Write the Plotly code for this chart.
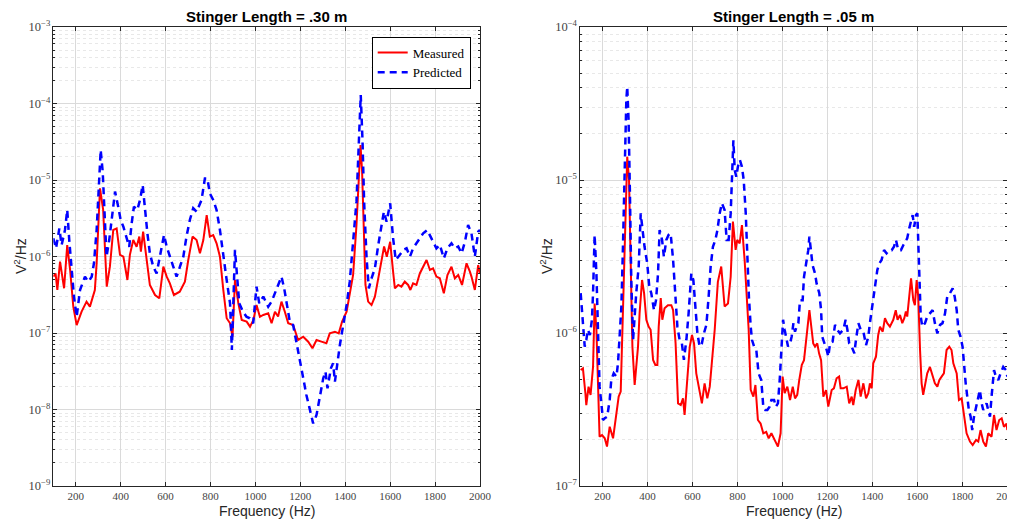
import plotly.graph_objects as go

# ---------------- data ----------------
left_freq_meas = [
    100, 110, 118, 130, 148, 162, 175, 189, 204, 226,
    248, 263, 285, 293, 308, 322, 338, 352, 367, 382,
    397, 412, 430, 441, 456, 471, 483, 490, 500, 515,
    530, 553, 572, 590, 605, 619, 637, 663, 686, 701,
    720, 738, 753, 768, 783, 797, 812, 827, 842, 857,
    872, 887, 898, 909, 924, 939, 961, 976, 991, 1005,
    1020, 1035, 1057, 1072, 1087, 1101, 1116, 1131, 1146, 1168,
    1190, 1213, 1235, 1254, 1272, 1294, 1316, 1331, 1354, 1371,
    1386, 1406, 1420, 1435, 1450, 1460, 1468, 1475, 1483, 1490,
    1502, 1517, 1532, 1547, 1561, 1573, 1585, 1600, 1613, 1621,
    1636, 1650, 1665, 1680, 1690, 1702, 1717, 1732, 1762, 1777,
    1791, 1806, 1821, 1839, 1855, 1873, 1888, 1903, 1920, 1940,
    1955, 1962, 1977, 1992, 2000]
left_meas = [
    5.45e-7, 6.0e-7, 3.65e-7, 8.55e-7, 3.84e-7, 1.41e-6, 6.65e-7, 2.21e-7, 1.27e-7, 1.90e-7,
    2.57e-7, 2.21e-7, 3.65e-7, 8.15e-7, 7.78e-6, 4.06e-6, 4.04e-7, 7.36e-7, 2.22e-6, 2.33e-6,
    1.05e-6, 9.95e-7, 4.93e-7, 1.05e-6, 1.64e-6, 1.34e-6, 1.82e-6, 1.16e-6, 2.11e-6, 9.0e-7,
    4.24e-7, 3.14e-7, 2.84e-7, 7.36e-7, 5.45e-7, 4.46e-7, 3.14e-7, 3.47e-7, 4.69e-7, 9.0e-7,
    1.82e-6, 1.64e-6, 1.10e-6, 1.64e-6, 3.48e-6, 1.82e-6, 1.91e-6, 1.49e-6, 9.95e-7, 3.65e-7,
    1.56e-7, 1.34e-7, 8.95e-8, 4.93e-7, 2.44e-7, 1.48e-7, 1.41e-7, 1.21e-7, 1.48e-7, 2.32e-7,
    1.63e-7, 1.72e-7, 1.81e-7, 1.34e-7, 1.90e-7, 1.64e-7, 2.57e-7, 1.90e-7, 1.34e-7, 1.27e-7,
    8.11e-8, 8.95e-8, 7.7e-8, 6.31e-8, 8.11e-8, 7.7e-8, 7.33e-8, 9.9e-8, 1.04e-7, 9.9e-8,
    1.41e-7, 1.90e-7, 3.14e-7, 5.73e-7, 2.58e-6, 1.29e-5, 2.87e-5, 1.29e-5, 2.58e-6, 4.25e-7,
    2.57e-7, 2.32e-7, 2.99e-7, 5.19e-7, 9.46e-7, 1.35e-6, 9.95e-7, 1.56e-6, 6.34e-7, 3.84e-7,
    4.25e-7, 4.04e-7, 4.69e-7, 4.25e-7, 3.65e-7, 4.46e-7, 4.25e-7, 6.0e-7, 9.0e-7, 6.67e-7,
    7.0e-7, 5.46e-7, 5.19e-7, 3.3e-7, 5.73e-7, 7.36e-7, 5.19e-7, 5.73e-7, 4.25e-7, 8.15e-7,
    6.34e-7, 5.46e-7, 3.65e-7, 7.74e-7, 6.0e-7]

left_freq_pred = [
    100, 112, 127, 137, 152, 162, 171, 182, 192, 204,
    219, 241, 256, 271, 281, 293, 305, 311, 320, 330,
    337, 349, 360, 375, 389, 400, 412, 424, 438, 449,
    459, 474, 486, 498, 508, 519, 530, 545, 560, 575,
    593, 605, 619, 634, 649, 664, 679, 693, 708, 723,
    738, 760, 775, 786, 797, 812, 827, 842, 857, 872,
    887, 895, 909, 916, 928, 945, 960, 975, 990, 1005,
    1017, 1035, 1057, 1072, 1087, 1101, 1116, 1128, 1138, 1153,
    1168, 1183, 1198, 1213, 1227, 1242, 1257, 1272, 1287, 1302,
    1312, 1321, 1336, 1346, 1354, 1366, 1376, 1391, 1406, 1420,
    1435, 1450, 1460, 1469, 1477, 1484, 1495, 1505, 1517, 1532,
    1547, 1561, 1572, 1584, 1600, 1613, 1625, 1643, 1658, 1673,
    1688, 1702, 1725, 1747, 1765, 1780, 1791, 1806, 1821, 1839,
    1855, 1873, 1888, 1903, 1918, 1933, 1947, 1962, 1977, 1992,
    2000]
left_pred = [
    1.73e-6, 1.28e-6, 2.33e-6, 1.41e-6, 2.22e-6, 4.06e-6, 1.64e-6, 6.65e-7, 2.99e-7, 1.63e-7,
    3.65e-7, 5.45e-7, 4.69e-7, 5.45e-7, 8.15e-7, 2.22e-6, 1.05e-5, 2.47e-5, 1.28e-5, 3.66e-6,
    9.95e-7, 1.64e-6, 3.32e-6, 7.05e-6, 4.48e-6, 3.0e-6, 2.45e-6, 1.82e-6, 1.34e-6, 2.72e-6,
    4.48e-6, 4.06e-6, 5.48e-6, 8.61e-6, 4.06e-6, 2.01e-6, 1.10e-6, 7.36e-7, 6.0e-7, 9.95e-7,
    1.91e-6, 1.34e-6, 9.95e-7, 7.36e-7, 5.45e-7, 7.36e-7, 9.95e-7, 1.82e-6, 3.0e-6, 4.27e-6,
    3.85e-6, 5.48e-6, 1.05e-5, 1.05e-5, 6.7e-6, 5.48e-6, 4.06e-6, 2.22e-6, 9.95e-7, 4.93e-7,
    2.44e-7, 6.0e-8, 1.22e-6, 6.65e-7, 2.44e-7, 1.90e-7, 1.63e-7, 1.56e-7, 1.34e-7, 4.04e-7,
    2.44e-7, 2.99e-7, 2.21e-7, 2.57e-7, 3.3e-7, 4.25e-7, 5.46e-7, 3.84e-7, 2.57e-7, 1.41e-7,
    1.27e-7, 7.7e-8, 4.22e-8, 2.56e-8, 1.55e-8, 1.04e-8, 6.59e-9, 8.47e-9, 1.55e-8, 2.56e-8,
    3.13e-8, 1.89e-8, 3.45e-8, 4.02e-8, 2.31e-8, 4.67e-8, 6.97e-8, 1.27e-7, 2.32e-7, 4.69e-7,
    1.42e-6, 5.21e-6, 2.87e-5, 1.29e-4, 3.17e-5, 5.21e-6, 9.46e-7, 3.84e-7, 5.19e-7, 7.0e-7,
    1.42e-6, 2.58e-6, 3.85e-6, 2.85e-6, 4.95e-6, 1.73e-6, 9.0e-7, 1.05e-6, 1.22e-6, 1.28e-6,
    9.95e-7, 1.28e-6, 1.64e-6, 2.01e-6, 2.22e-6, 1.82e-6, 1.56e-6, 1.28e-6, 1.42e-6, 9.46e-7,
    1.28e-6, 1.49e-6, 1.28e-6, 1.35e-6, 1.10e-6, 1.56e-6, 2.58e-6, 2.01e-6, 9.95e-7, 2.11e-6,
    2.22e-6]

right_freq_meas = [
    103, 113, 124, 128, 138, 147, 158, 165, 173, 180,
    187, 198, 210, 220, 232, 247, 261, 272, 281, 291,
    302, 310, 318, 324, 333, 343, 350, 358, 365, 376,
    385, 395, 405, 414, 425, 435, 444, 450, 459, 466,
    476, 491, 506, 514, 525, 536, 548, 558, 565, 577,
    588, 598, 607, 617, 628, 642, 654, 666, 677, 688,
    699, 713, 728, 743, 758, 770, 780, 792, 799, 810,
    820, 832, 842, 850, 859, 871, 880, 891, 903, 915,
    928, 939, 951, 965, 980, 992, 1001, 1010, 1022, 1034,
    1046, 1056, 1066, 1075, 1086, 1096, 1108, 1120, 1130, 1137,
    1145, 1155, 1163, 1172, 1182, 1194, 1204, 1212, 1219, 1229,
    1241, 1252, 1259, 1271, 1286, 1297, 1308, 1315, 1326, 1338,
    1348, 1360, 1372, 1382, 1389, 1397, 1404, 1416, 1426, 1434,
    1446, 1456, 1466, 1478, 1493, 1504, 1512, 1523, 1533, 1542,
    1549, 1555, 1563, 1572, 1582, 1589, 1597, 1604, 1612, 1619,
    1626, 1637, 1644, 1656, 1668, 1678, 1689, 1698, 1708, 1718,
    1730, 1742, 1752, 1760, 1775, 1785, 1797, 1807, 1819, 1834,
    1846, 1861, 1871, 1881, 1893, 1905, 1915, 1930, 1941, 1952,
    1964, 1975, 1985, 1997, 2000]
right_meas = [
    5.73e-7, 5.87e-7, 4.04e-7, 3.38e-7, 4.46e-7, 3.94e-7, 6.0e-7, 1.56e-6, 1.05e-6, 4.93e-7,
    2.1e-7, 2.15e-7, 2.05e-7, 1.81e-7, 2.44e-7, 2.05e-7, 2.84e-7, 3.84e-7, 4.14e-7, 1.35e-6,
    6.05e-6, 1.42e-5, 1.0e-5, 3.66e-6, 8.15e-7, 4.57e-7, 6.18e-7, 8.15e-7, 1.35e-6, 2.22e-6,
    1.82e-6, 1.22e-6, 1.10e-6, 1.05e-6, 6.67e-7, 6.18e-7, 6.18e-7, 1.10e-6, 1.69e-6, 1.22e-6,
    1.45e-6, 1.52e-6, 1.52e-6, 1.41e-6, 8.57e-7, 3.47e-7, 3.38e-7, 3.74e-7, 2.91e-7, 4.93e-7,
    8.15e-7, 9.7e-7, 8.57e-7, 5.45e-7, 4.46e-7, 3.47e-7, 4.69e-7, 3.74e-7, 4.46e-7, 6.5e-7,
    1.05e-6, 2.16e-6, 2.72e-6, 1.49e-6, 1.56e-6, 2.33e-6, 5.35e-6, 3.49e-6, 4.06e-6, 3.85e-6,
    5.08e-6, 3.0e-6, 1.82e-6, 1.05e-6, 4.25e-7, 3.84e-7, 4.57e-7, 2.70e-7, 2.56e-7, 2.21e-7,
    2.26e-7, 2.05e-7, 2.21e-7, 2.0e-7, 1.81e-7, 2.21e-7, 5.19e-7, 4.04e-7, 4.46e-7, 3.65e-7,
    4.46e-7, 3.74e-7, 3.94e-7, 4.93e-7, 6.18e-7, 6.65e-7, 9.46e-7, 1.41e-6, 1.05e-6, 8.55e-7,
    8.15e-7, 8.55e-7, 7.36e-7, 6.65e-7, 3.84e-7, 4.24e-7, 3.3e-7, 3.74e-7, 4.24e-7, 4.35e-7,
    5.06e-7, 5.19e-7, 4.35e-7, 4.35e-7, 4.46e-7, 3.47e-7, 3.84e-7, 3.38e-7, 4.24e-7, 4.93e-7,
    3.84e-7, 4.69e-7, 3.74e-7, 4.04e-7, 4.69e-7, 4.35e-7, 6.34e-7, 7.0e-7, 9.7e-7, 1.10e-6,
    1.02e-6, 1.25e-6, 1.16e-6, 1.10e-6, 1.22e-6, 1.41e-6, 1.22e-6, 1.31e-6, 1.16e-6, 1.25e-6,
    1.38e-6, 1.28e-6, 1.73e-6, 2.28e-6, 1.64e-6, 1.52e-6, 2.22e-6, 1.73e-6, 7.74e-7, 4.69e-7,
    3.94e-7, 4.93e-7, 5.45e-7, 6.0e-7, 5.19e-7, 4.69e-7, 4.46e-7, 4.93e-7, 5.19e-7, 5.45e-7,
    7.74e-7, 8.15e-7, 7.74e-7, 6.34e-7, 5.45e-7, 3.65e-7, 3.74e-7, 2.99e-7, 2.21e-7, 1.95e-7,
    1.85e-7, 2.0e-7, 1.95e-7, 2.32e-7, 1.95e-7, 1.81e-7, 2.21e-7, 2.1e-7, 2.91e-7, 2.32e-7,
    2.70e-7, 2.77e-7, 2.44e-7, 2.56e-7, 2.32e-7]

right_freq_pred = [
    103, 109, 115, 121, 128, 135, 144, 153, 158, 162,
    165, 173, 180, 187, 195, 202, 210, 221, 232, 239,
    250, 262, 269, 276, 284, 291, 299, 306, 310, 316,
    322, 328, 336, 343, 350, 361, 370, 380, 387, 399,
    408, 417, 429, 438, 447, 454, 465, 473, 484, 494,
    503, 514, 524, 533, 543, 553, 562, 573, 583, 595,
    604, 613, 622, 632, 642, 651, 662, 672, 681, 691,
    702, 711, 721, 731, 743, 752, 761, 770, 776, 782,
    788, 795, 802, 811, 820, 828, 837, 844, 851, 859,
    865, 874, 884, 894, 906, 915, 924, 933, 943, 951,
    963, 971, 980, 988, 995, 1003, 1010, 1017, 1025, 1034,
    1041, 1049, 1056, 1063, 1071, 1078, 1090, 1096, 1105, 1115,
    1120, 1127, 1134, 1145, 1152, 1164, 1172, 1177, 1185, 1197,
    1204, 1212, 1223, 1234, 1244, 1256, 1271, 1281, 1289, 1297,
    1308, 1320, 1327, 1338, 1348, 1360, 1372, 1382, 1389, 1397,
    1404, 1412, 1422, 1431, 1441, 1452, 1463, 1474, 1486, 1496,
    1505, 1515, 1527, 1538, 1548, 1555, 1564, 1572, 1579, 1586,
    1594, 1600, 1604, 1609, 1615, 1622, 1634, 1644, 1656, 1668,
    1678, 1689, 1701, 1712, 1723, 1733, 1745, 1757, 1766, 1775,
    1782, 1792, 1801, 1807, 1815, 1822, 1829, 1837, 1844, 1852,
    1861, 1871, 1878, 1886, 1893, 1900, 1908, 1915, 1923, 1930,
    1935, 1941, 1949, 1960, 1970, 1982, 1994, 2000]
right_pred = [
    1.82e-6, 1.41e-6, 9.95e-7, 8.15e-7, 9.0e-7, 1.05e-6, 9.7e-7, 1.22e-6, 1.82e-6, 3.32e-6,
    4.38e-6, 2.45e-6, 9.0e-7, 4.46e-7, 3.47e-7, 2.70e-7, 2.77e-7, 2.84e-7, 3.65e-7, 4.93e-7,
    5.45e-7, 5.19e-7, 6.34e-7, 9.0e-7, 1.49e-6, 3.66e-6, 1.29e-5, 3.33e-5, 4.07e-5, 2.47e-5,
    8.18e-6, 2.22e-6, 9.0e-7, 1.35e-6, 1.82e-6, 2.72e-6, 6.05e-6, 4.48e-6, 3.66e-6, 2.85e-6,
    2.01e-6, 1.82e-6, 1.41e-6, 1.64e-6, 2.45e-6, 4.71e-6, 4.06e-6, 3.15e-6, 4.06e-6, 4.38e-6,
    4.48e-6, 3.0e-6, 1.82e-6, 1.10e-6, 9.0e-7, 8.55e-7, 6.67e-7, 9.0e-7, 1.35e-6, 2.45e-6,
    2.22e-6, 1.49e-6, 9.95e-7, 8.15e-7, 8.55e-7, 9.95e-7, 1.13e-6, 1.73e-6, 2.72e-6, 3.66e-6,
    4.06e-6, 4.71e-6, 6.05e-6, 7.05e-6, 6.37e-6, 4.06e-6, 4.06e-6, 6.05e-6, 1.16e-5, 1.82e-5,
    1.16e-5, 1.05e-5, 1.22e-5, 1.35e-5, 1.22e-5, 1.0e-5, 6.05e-6, 3.0e-6, 1.73e-6, 1.10e-6,
    9.0e-7, 8.15e-7, 7.74e-7, 5.45e-7, 4.93e-7, 3.3e-7, 3.14e-7, 3.14e-7, 3.3e-7, 3.65e-7,
    3.65e-7, 3.3e-7, 3.47e-7, 4.93e-7, 7.74e-7, 1.22e-6, 1.05e-6, 9.46e-7, 8.15e-7, 8.55e-7,
    9.46e-7, 1.16e-6, 1.02e-6, 1.10e-6, 1.16e-6, 1.64e-6, 1.64e-6, 2.33e-6, 2.85e-6, 3.48e-6,
    4.27e-6, 3.48e-6, 2.78e-6, 2.45e-6, 2.11e-6, 1.82e-6, 1.41e-6, 9.46e-7, 8.77e-7, 7.74e-7,
    7.0e-7, 8.55e-7, 8.77e-7, 1.13e-6, 1.05e-6, 9.95e-7, 1.05e-6, 1.22e-6, 1.05e-6, 8.55e-7,
    8.15e-7, 7.36e-7, 9.0e-7, 1.16e-6, 1.05e-6, 1.02e-6, 8.34e-7, 9.46e-7, 1.16e-6, 1.41e-6,
    1.73e-6, 2.11e-6, 2.58e-6, 2.85e-6, 3.0e-6, 3.48e-6, 3.32e-6, 3.48e-6, 3.48e-6, 3.66e-6,
    4.06e-6, 3.48e-6, 3.48e-6, 3.76e-6, 3.95e-6, 4.16e-6, 4.83e-6, 5.35e-6, 5.9e-6, 4.95e-6,
    5.9e-6, 6.05e-6, 3.85e-6, 2.11e-6, 1.28e-6, 1.10e-6, 1.16e-6, 1.28e-6, 1.34e-6, 1.41e-6,
    1.16e-6, 9.95e-7, 1.13e-6, 1.16e-6, 1.34e-6, 1.73e-6, 1.82e-6, 1.96e-6, 1.73e-6, 1.41e-6,
    1.05e-6, 9.46e-7, 8.15e-7, 6.0e-7, 4.69e-7, 3.84e-7, 3.14e-7, 2.84e-7, 2.32e-7, 2.84e-7,
    3.3e-7, 3.84e-7, 4.24e-7, 3.47e-7, 3.14e-7, 3.3e-7, 3.47e-7, 3.14e-7, 2.84e-7, 3.84e-7,
    4.69e-7, 5.73e-7, 5.19e-7, 4.93e-7, 5.45e-7, 6.0e-7, 5.73e-7, 5.19e-7]

x_ticks = [200, 400, 600, 800, 1000, 1200, 1400, 1600, 1800, 2000]
titles = ["Stinger Length = .30 m", "Stinger Length = .05 m"]
series_names = ["Measured", "Predicted"]
x_title = "Frequency (Hz)"
y_title = "V<sup>2</sup>/Hz"

# ---------------- figure ----------------
# the page body adds an 8 px margin, so the figure is laid out in
# (screen position - 8 px) coordinates.
OFF = 8
W, H = 1015 - OFF, 523 - OFF
RED = "#ff0000"
BLUE = "#0000ff"
AX = "#262626"
GRID = "#dadada"
MINOR_GRID = "#e8e8e8"
TICK_TXT = "#444444"
SERIF = "Liberation Serif, DejaVu Serif, serif"
SANS = "Liberation Sans, Arial, sans-serif"


def px(x):
    return (x - OFF) / W


def py(y):
    return 1 - (y - OFF) / H


fig = go.Figure()
fig.add_trace(go.Scatter(x=left_freq_meas, y=left_meas, mode="lines", name=series_names[0],
                         line=dict(color=RED, width=2), xaxis="x", yaxis="y"))
fig.add_trace(go.Scatter(x=left_freq_pred, y=left_pred, mode="lines", name=series_names[1],
                         line=dict(color=BLUE, width=2.5, dash="7px,5px"), xaxis="x", yaxis="y"))
fig.add_trace(go.Scatter(x=right_freq_meas, y=right_meas, mode="lines", showlegend=False,
                         line=dict(color=RED, width=2), xaxis="x2", yaxis="y2"))
fig.add_trace(go.Scatter(x=right_freq_pred, y=right_pred, mode="lines", showlegend=False,
                         line=dict(color=BLUE, width=2.5, dash="7px,5px"), xaxis="x2", yaxis="y2"))


def xaxis_cfg(domain, anchor):
    return dict(domain=domain, anchor=anchor, range=[100, 2000], tickmode="array",
                tickvals=x_ticks, ticktext=[str(v) for v in x_ticks], automargin=False,
                ticklabeloverflow="allow",
                ticks="inside", ticklen=4, tickcolor=AX, showline=True, linecolor=AX,
                linewidth=1, mirror="ticks", showgrid=True, gridcolor=GRID, gridwidth=1,
                zeroline=False, tickfont=dict(family=SERIF, size=11, color=TICK_TXT))


def yaxis_cfg(domain, anchor, rng):
    return dict(domain=domain, anchor=anchor, type="log", range=rng, dtick=1,
                exponentformat="power", ticks="inside", ticklen=4, tickcolor=AX,
                showline=True, linecolor=AX, linewidth=1, mirror="ticks", automargin=False,
                ticklabeloverflow="allow",
                showgrid=True, gridcolor=GRID, gridwidth=1, zeroline=False,
                tickfont=dict(family=SERIF, size=10, color=TICK_TXT),
                minor=dict(dtick="D1", ticks="inside", ticklen=2, tickcolor=AX,
                           showgrid=True, gridcolor=MINOR_GRID, griddash="dot", gridwidth=1))


ydom = [py(486), py(27)]
fig.update_layout(
    width=W, height=H,
    margin=dict(l=0, r=0, t=0, b=0, autoexpand=False),
    paper_bgcolor="white", plot_bgcolor="white",
    xaxis=xaxis_cfg([px(53.3), px(480.0)], "y"),
    yaxis=yaxis_cfg(ydom, "x", [-9, -3]),
    xaxis2=xaxis_cfg([px(580.0), px(1007.3)], "y2"),
    yaxis2=yaxis_cfg(ydom, "x2", [-7, -4]),
    legend=dict(x=px(470.7), xanchor="right", y=py(36.5), yanchor="top",
                bgcolor="white", bordercolor="#000000", borderwidth=1,
                font=dict(family=SERIF, size=13, color="#000000"),
                itemwidth=30, tracegroupgap=0),
    showlegend=True,
)

annotations = []
for cx, t in zip([(53.3 + 480.0) / 2, (580.0 + 1007.3) / 2], titles):
    annotations.append(dict(x=px(cx), y=py(16), xref="paper", yref="paper",
                            xanchor="center", yanchor="middle",
                            text="<b>" + t + "</b>", showarrow=False,
                            font=dict(family=SANS, size=15, color="#000000")))
    annotations.append(dict(x=px(cx), y=py(511), xref="paper", yref="paper",
                            xanchor="center", yanchor="middle",
                            text=x_title, showarrow=False,
                            font=dict(family=SANS, size=14, color=AX)))
for cx in [20, 546]:
    annotations.append(dict(x=px(cx), y=py(256), xref="paper", yref="paper",
                            xanchor="center", yanchor="middle",
                            text=y_title, showarrow=False, textangle=-90,
                            font=dict(family=SANS, size=14, color=AX)))
fig.update_layout(annotations=annotations)

fig.write_html("out.html")
